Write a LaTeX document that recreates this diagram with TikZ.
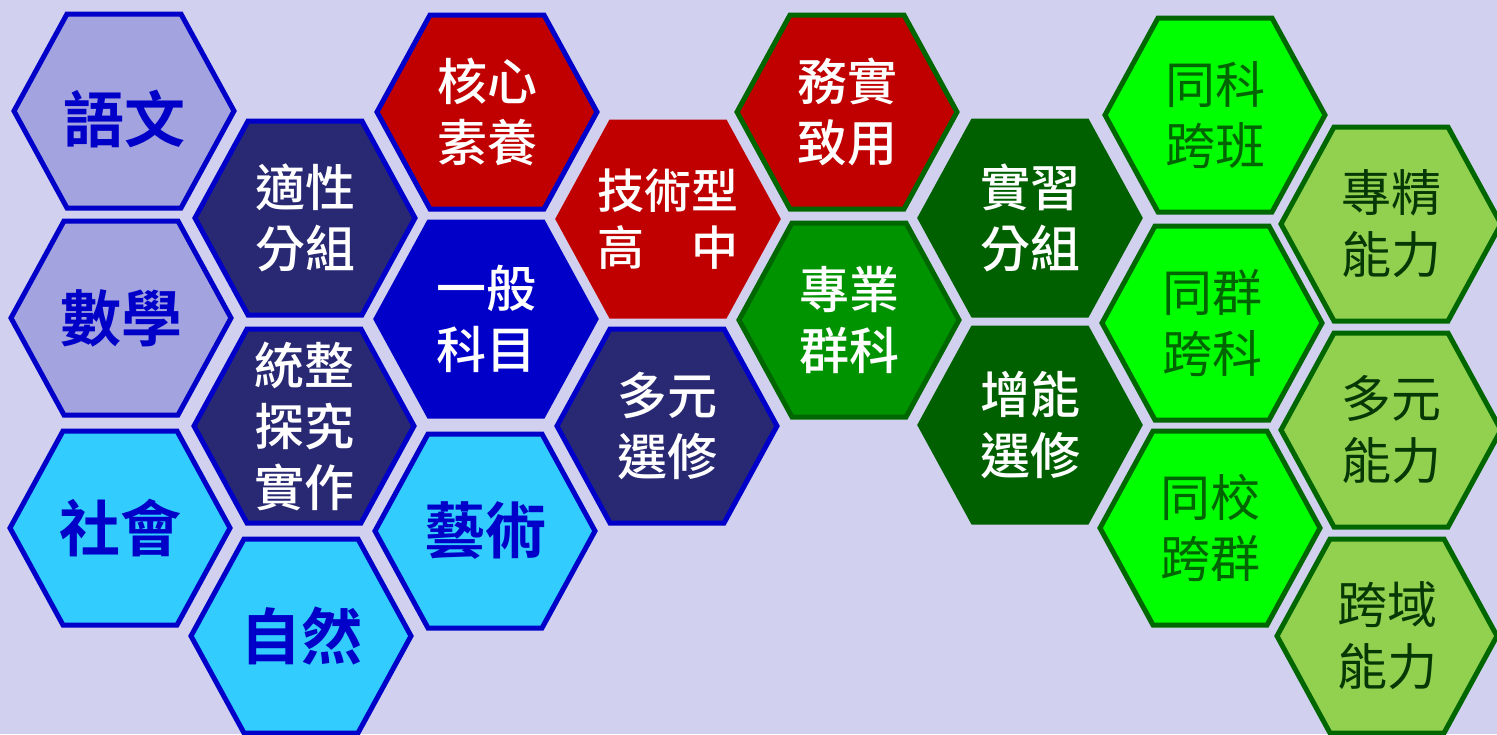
\documentclass[tikz,border=0pt]{standalone}
\usepackage{fontspec}
\newfontfamily\cjk{Noto Sans CJK TC}
\newfontfamily\cjkm{Noto Sans CJK TC Medium}
\newfontfamily\cjkb{Noto Sans CJK TC Bold}
\definecolor{bgc}{HTML}{D1D1EF}
\definecolor{lav}{HTML}{A3A3DF}
\definecolor{blu}{HTML}{0000C8}
\definecolor{cya}{HTML}{33CCFF}
\definecolor{nav}{HTML}{282873}
\definecolor{red1}{HTML}{C00000}
\definecolor{gmid}{HTML}{009300}
\definecolor{gbord}{HTML}{006600}
\definecolor{gdark}{HTML}{006000}
\definecolor{gbright}{HTML}{00FF00}
\definecolor{gbtext}{HTML}{006400}
\definecolor{glight}{HTML}{92D050}
\definecolor{gltext}{HTML}{053805}
\tikzset{
  hexline/.style={line width=5pt, line join=miter},
  bluetxt/.style={text=blu, font=\cjkb\fontsize{61}{68}\selectfont, align=center, inner sep=0pt},
  whitetxt/.style={text=white, font=\cjkm\fontsize{50}{61}\selectfont, align=center, inner sep=0pt},
  gbtxt/.style={text=gbtext, font=\cjk\fontsize{50}{61}\selectfont, align=center, inner sep=0pt},
  gltxt/.style={text=gltext, font=\cjk\fontsize{50}{62}\selectfont, align=center, inner sep=0pt},
  lavhex/.style={hexline, fill=lav, draw=blu},
  cyahex/.style={hexline, fill=cya, draw=blu},
  navhex/.style={hexline, fill=nav, draw=blu},
  bluhex/.style={hexline, fill=blu, draw=blu},
  redbhex/.style={hexline, fill=red1, draw=blu},
  redhex/.style={hexline, fill=red1, draw=red1},
  redghex/.style={hexline, fill=red1, draw=gbord},
  gmidhex/.style={hexline, fill=gmid, draw=gbord},
  gdarkhex/.style={hexline, fill=gdark, draw=gdark},
  gbrighthex/.style={hexline, fill=gbright, draw=gbord},
  glighthex/.style={hexline, fill=glight, draw=gbord},
}
\newcommand{\hexcell}[6]{%
  \path[#4] ({#2+110},{#3}) -- ({#2+57},{#3+97}) -- ({#2-57},{#3+97}) -- ({#2-110},{#3})
    -- ({#2-57},{#3-97}) -- ({#2+57},{#3-97}) -- cycle;
  \node[#5] (#1) at (#2,#3) {#6};
}
\begin{document}
\begin{tikzpicture}[x=1pt,y=-1pt]
\fill[bgc] (0,0) rectangle (1497,734);
\useasboundingbox (0,0) rectangle (1497,734);
% column 1
\hexcell{yuwen}{124}{111}{lavhex}{bluetxt,yshift=-8pt}{語文}
\hexcell{shuxue}{121}{318}{lavhex}{bluetxt}{數學}
\hexcell{shehui}{120}{528}{cyahex}{bluetxt}{社會}
% column 2
\hexcell{shixing}{305}{218}{navhex}{whitetxt}{適性\\分組}
\hexcell{tongzheng}{304}{426}{navhex}{whitetxt}{統整\\探究\\實作}
\hexcell{ziran}{301}{636}{cyahex}{bluetxt}{自然}
% column 3
\hexcell{hexin}{487}{112}{redbhex}{whitetxt}{核心\\素養}
\hexcell{yiban}{486}{319}{bluhex}{whitetxt}{一般\\科目}
\hexcell{yishu}{485}{531}{cyahex}{bluetxt}{藝術}
% column 4
\hexcell{jishu}{668}{219}{redhex}{whitetxt,font=\cjkm\fontsize{47}{57}\selectfont}{技術型\\高　中}
\hexcell{duoyuan}{667}{426}{navhex}{whitetxt}{多元\\選修}
% column 5
\hexcell{wushi}{847}{112}{redghex}{whitetxt}{務實\\致用}
\hexcell{zhuanye}{849}{320}{gmidhex}{whitetxt}{專業\\群科}
% column 6
\hexcell{shixi}{1030}{218}{gdarkhex}{whitetxt}{實習\\分組}
\hexcell{zengneng}{1030}{425}{gdarkhex}{whitetxt}{增能\\選修}
% column 7
\hexcell{tongke}{1215}{115}{gbrighthex}{gbtxt}{同科\\跨班}
\hexcell{tongqun}{1212}{323}{gbrighthex}{gbtxt}{同群\\跨科}
\hexcell{tongxiao}{1210}{528}{gbrighthex}{gbtxt}{同校\\跨群}
% column 8
\hexcell{zhuanjing}{1391}{224}{glighthex}{gltxt}{專精\\能力}
\hexcell{duonengli}{1391}{430}{glighthex}{gltxt}{多元\\能力}
\hexcell{kuayu}{1387}{636}{glighthex}{gltxt}{跨域\\能力}
\end{tikzpicture}
\end{document}
